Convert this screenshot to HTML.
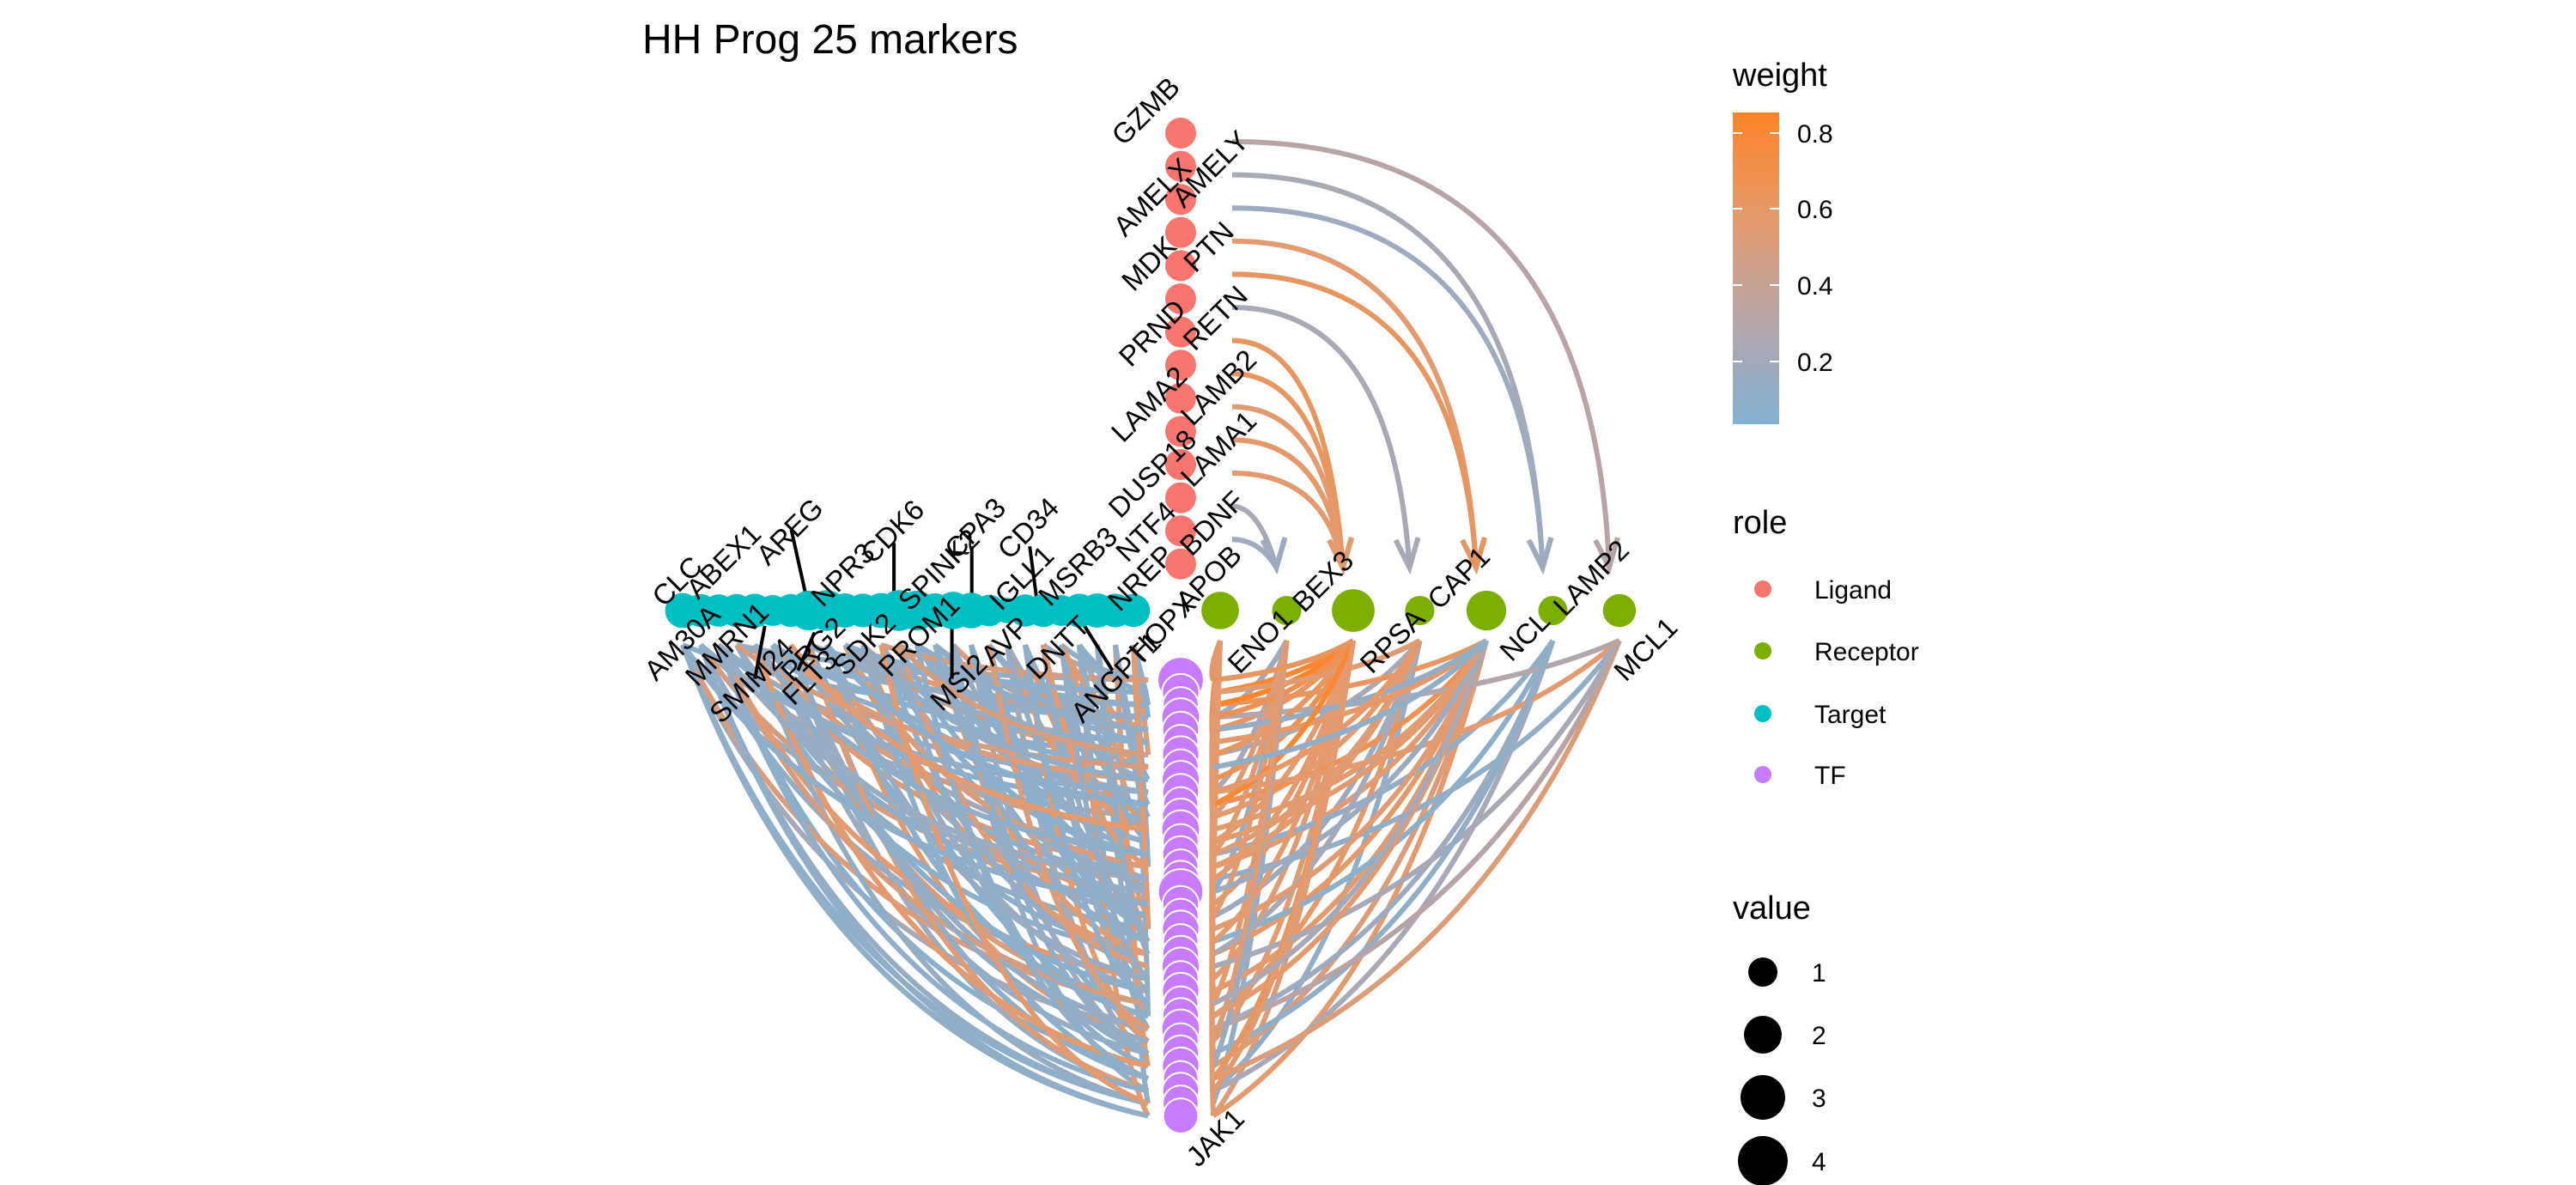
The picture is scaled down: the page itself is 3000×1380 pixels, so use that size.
<!DOCTYPE html>
<html><head><meta charset="utf-8"><style>
html,body{margin:0;padding:0;background:#fff;}
svg{display:block;font-family:"Liberation Sans",Arial,sans-serif;}
</style></head><body>
<svg id="chart" width="3000" height="1380" viewBox="0 0 3000 1380">
<defs>
<linearGradient id="wgrad" x1="0" y1="1" x2="0" y2="0">
<stop offset="0" stop-color="#81b1d4"/><stop offset="0.3" stop-color="#b2a6ae"/><stop offset="0.65" stop-color="#e39a6e"/><stop offset="1" stop-color="#fe8428"/>
</linearGradient>
</defs>
<text x="748" y="62" font-size="48">HH Prog 25 markers</text>
<g id="edges"></g>
<g id="leaders"></g>
<g id="nodes"></g>
<g id="labels"></g>
<g>
<text x="2018" y="100" font-size="38">weight</text>
<rect x="2018" y="131" width="54" height="363" fill="url(#wgrad)"/>
<g stroke="#fff" stroke-width="2">
<line x1="2018" y1="155" x2="2029" y2="155"/><line x1="2061" y1="155" x2="2072" y2="155"/>
<line x1="2018" y1="243" x2="2029" y2="243"/><line x1="2061" y1="243" x2="2072" y2="243"/>
<line x1="2018" y1="332" x2="2029" y2="332"/><line x1="2061" y1="332" x2="2072" y2="332"/>
<line x1="2018" y1="421" x2="2029" y2="421"/><line x1="2061" y1="421" x2="2072" y2="421"/>
</g>
<g font-size="30">
<text x="2093" y="166">0.8</text>
<text x="2093" y="254">0.6</text>
<text x="2093" y="343">0.4</text>
<text x="2093" y="432">0.2</text>
</g>
</g>
<g font-size="30">
<text x="2018" y="621" font-size="38">role</text>
<circle cx="2053" cy="686" r="10" fill="#F8766D"/>
<text x="2113" y="697">Ligand</text>
<circle cx="2053" cy="758" r="10" fill="#7CAE00"/>
<text x="2113" y="769">Receptor</text>
<circle cx="2053" cy="831" r="10" fill="#00BFC4"/>
<text x="2113" y="842">Target</text>
<circle cx="2053" cy="902" r="10" fill="#C77CFF"/>
<text x="2113" y="913">TF</text>
</g>
<g font-size="30">
<text x="2018" y="1070" font-size="38">value</text>
<circle cx="2053" cy="1132" r="17" fill="#000"/>
<text x="2110" y="1143">1</text>
<circle cx="2053" cy="1205" r="22" fill="#000"/>
<text x="2110" y="1216">2</text>
<circle cx="2053" cy="1278" r="26" fill="#000"/>
<text x="2110" y="1289">3</text>
<circle cx="2053" cy="1352" r="29" fill="#000"/>
<text x="2110" y="1363">4</text>
</g>
</svg>
<script>
var ligandNames=["GZMB","AMELX","AMELY","MDK","PTN","PRND","RETN","LAMA2","LAMB2","DUSP18","LAMA1","NTF4","BDNF",""];
var receptorNames=["ENO1","BEX3","RPSA","CAP1","NCL","LAMP2","MCL1"];
var receptorValue=[2.2,1.0,3.2,1.0,2.6,1.0,1.5];
var targetValue=[1.8,1.5,1.4,1.5,1.6,1.2,1.5,2.6,2.8,1.7,1.6,1.8,2.8,2.6,1.7,2.2,1.9,1.3,0.6,1.4,1.5,1.2,1.6,1.7,1.6,1.5];
var tfValue=[3.2,1.6,1.4,1.8,1.5,1.3,1.6,1.4,1.7,1.5,1.3,1.6,1.8,1.4,1.5,1.3,1.6,3.0,1.5,1.4,1.6,1.3,1.5,1.7,1.4,1.6,1.3,1.5,1.8,1.4,1.5,1.6,1.3,1.5,1.4,1.3];
var ligR=[0,1,2,3,4,5,6,7,8,9,10,11,12];
var ligRec=[6,5,5,4,4,3,2,2,2,2,2,1,1];
var ligW=[0.3,0.2,0.15,0.6,0.65,0.2,0.65,0.65,0.6,0.62,0.6,0.2,0.15];
var leftTF=[0,0,1,2,2,3,4,5,5,6,7,8,8,9,10,11,12,12,13,14,15,16,16,17,18,19,20,20,21,22,23,24,24,25,26,27,28,28,29,30,31,32,33,34,35,1,3,4,6,7,9,10,11,13,14,15,17,18,19,21,22,23,25,26,27,29,30,31,32,33,34,35,2,5,8,12,16,20,24,28,0,3,6,9,14,18,22,26,30,34,
35,34,33,32,31,30,29,28,27,26,25,24,23,22,21,20,19,18,17,16,15,14,13,12,11,10,9,8,7,6,5,4,3,2,1,0,35,33,31,29,27,25,23,21,19,17,15,13,11,9,7,5,3,1,34,32,30,28,26,24,22,20,18,16,14,12,10,8,6,4,2,0];
var leftTg=[3,20,7,12,25,0,15,5,22,10,18,2,24,8,13,1,19,6,23,11,4,16,0,21,9,14,3,25,17,7,12,1,20,10,5,23,0,15,8,18,2,13,6,24,0,22,9,17,4,21,11,2,19,14,6,25,1,16,8,23,3,12,20,0,10,18,5,24,7,15,1,22,13,9,19,4,11,17,2,6,21,14,25,8,16,3,10,20,12,0,
1,4,7,10,13,16,19,22,25,2,5,8,11,14,17,20,23,0,3,6,9,12,15,18,21,24,1,5,9,13,17,21,25,3,7,11,0,2,4,6,8,10,12,14,16,18,20,22,24,1,3,5,7,9,11,13,15,17,19,21,23,25,0,2,4,6,8,10,12,14,16,18];
var leftW=[0.1,0.15,0.6,0.08,0.12,0.05,0.55,0.1,0.18,0.62,0.09,0.14,0.07,0.5,0.11,0.2,0.6,0.08,0.13,0.1,0.58,0.06,0.16,0.12,0.65,0.09,0.1,0.52,0.15,0.07,0.6,0.11,0.08,0.14,0.55,0.1,0.2,0.09,0.6,0.12,0.07,0.5,0.15,0.1,0.13,0.08,0.6,0.12,0.1,0.55,0.14,0.07,0.62,0.1,0.18,0.09,0.5,0.11,0.15,0.6,0.08,0.12,0.1,0.55,0.06,0.2,0.14,0.58,0.09,0.1,0.12,0.6,0.07,0.15,0.11,0.52,0.1,0.08,0.6,0.13,0.09,0.15,0.55,0.1,0.12,0.07,0.6,0.14,0.1,0.08,
0.1,0.12,0.55,0.08,0.1,0.15,0.6,0.09,0.11,0.5,0.07,0.13,0.1,0.58,0.08,0.12,0.6,0.09,0.14,0.1,0.52,0.07,0.11,0.6,0.1,0.08,0.15,0.55,0.09,0.12,0.1,0.6,0.08,0.11,0.13,0.5,0.1,0.09,0.6,0.12,0.08,0.14,0.55,0.1,0.07,0.11,0.6,0.09,0.12,0.1,0.5,0.08,0.13,0.1,0.6,0.09,0.11,0.55,0.08,0.12,0.1,0.58,0.09,0.14,0.1,0.6,0.07,0.11,0.5,0.1];
var rightR=[0,0,0,0,0,1,1,1,1,1,2,2,2,2,2,2,2,2,3,3,3,3,3,4,4,4,4,4,4,4,4,5,5,5,5,6,6,6,6,6,0,1,2,2,3,4,4,5,6,2,4,0,3,1,2,4,
0,1,2,3,4,0,1,2,3,4,0,2,4,1,3,2,4,0,2,4];
var rightTF=[0,5,12,20,30,3,9,17,26,34,1,4,8,13,18,24,29,35,6,11,19,27,33,2,7,10,15,22,25,31,35,14,21,28,33,3,9,16,23,32,8,14,6,16,22,12,20,30,28,2,5,25,14,31,21,27,
10,11,3,15,4,24,19,32,1,17,35,10,13,29,9,33,26,18,0,7];
var rightW=[0.6,0.7,0.65,0.6,0.55,0.15,0.2,0.1,0.6,0.12,0.8,0.65,0.7,0.6,0.62,0.58,0.6,0.55,0.2,0.6,0.15,0.62,0.1,0.65,0.6,0.7,0.58,0.62,0.6,0.55,0.6,0.1,0.08,0.15,0.2,0.25,0.6,0.1,0.2,0.55,0.62,0.6,0.65,0.6,0.2,0.6,0.58,0.1,0.3,0.85,0.62,0.6,0.55,0.12,0.6,0.6,
0.6,0.55,0.7,0.6,0.12,0.62,0.6,0.65,0.58,0.15,0.6,0.8,0.6,0.55,0.62,0.6,0.2,0.6,0.65,0.1];
var NS="http://www.w3.org/2000/svg";
function mk(tag,attrs,parent){var e=document.createElementNS(NS,tag);for(var k in attrs)e.setAttribute(k,attrs[k]);parent.appendChild(e);return e;}
function lerp(a,b,t){return a.map(function(v,i){return Math.round(v+(b[i]-v)*t);});}
function wColor(w){var c0=[129,177,212],c1=[178,166,174],c2=[227,154,110],c3=[254,132,40];var c;
 if(w<0.25)c=lerp(c0,c1,Math.max(0,(w-0.03)/0.22));else if(w<0.6)c=lerp(c1,c2,(w-0.25)/0.35);else c=lerp(c2,c3,Math.min(1,(w-0.6)/0.25));
 return "rgb("+c.join(",")+")";}
function rSize(v){return 11+Math.sqrt(v)*10;}
var colX=1375;
function ligY(i){return 155+i*38.6;}
function recX(i){return 1421+i*77.5;}
var rowY=711;
function tgX(i){return 795+i*21;}
function tfY(i){return 792+i*14.5;}
var E=document.getElementById('edges'),N=document.getElementById('nodes'),L=document.getElementById('labels'),LD=document.getElementById('leaders');
var nL=Math.min(leftTF.length,leftTg.length,leftW.length);
for(var i=0;i<nL;i++){var y=tfY(leftTF[i]),x=tgX(leftTg[i]),y0=rowY+40;
 var cx=x+(colX-x)*0.3,cy=y0+(y-y0)*0.85;
 var p=mk('path',{d:"M"+(colX-38)+","+y+" Q"+cx+","+cy+" "+x+","+y0,fill:"none",stroke:wColor(leftW[i]),"stroke-width":6},E);
 
 }
var nR=Math.min(rightR.length,rightTF.length,rightW.length);
for(var i=0;i<nR;i++){var y=tfY(rightTF[i]),x=recX(rightR[i]),y0=rowY+35;
 var cx=x-(x-colX)*0.3,cy=y0+(y-y0)*0.75;
 var p=mk('path',{d:"M"+x+","+y0+" Q"+cx+","+cy+" "+(colX+38)+","+y,fill:"none",stroke:wColor(rightW[i]),"stroke-width":6},E);
 
 }
for(var i=0;i<ligR.length;i++){var y=ligY(ligR[i]),x=recX(ligRec[i])-12,c=wColor(ligW[i]);
 var p=mk('path',{d:"M"+(colX+60)+","+(y+10)+" Q"+(x-20)+","+(y+10)+" "+x+","+(rowY-50),fill:"none",stroke:c,"stroke-width":6},E);
 
 
 var a=mk('path',{d:"M"+(x-16)+","+(rowY-82)+" L"+x+","+(rowY-50)+" L"+(x+10)+","+(rowY-85),fill:"none",stroke:c,"stroke-width":6},E);
 
 }
for(var i=0;i<targetValue.length;i++){var c=mk('circle',{cx:tgX(i),cy:rowY,r:rSize(targetValue[i])-4,fill:"#00BFC4"},N);
 
 }
for(var i=0;i<tfValue.length;i++){var c=mk('circle',{cx:colX,cy:tfY(i),r:rSize(tfValue[i])-2,fill:"#C77CFF",stroke:"#fff","stroke-width":2},N);
 
 }
for(var i=0;i<ligandNames.length;i++){var c=mk('circle',{cx:colX,cy:ligY(i),r:18,fill:"#F8766D"},N);
 
 }
for(var i=0;i<receptorNames.length;i++){var c=mk('circle',{cx:recX(i),cy:rowY,r:rSize(receptorValue[i])-4,fill:"#7CAE00"},N);
 
 }
var lab=[["GZMB",693,68],["AMELX",697,120],["AMELY",732,103],["MDK",695,160],["PTN",731,150],["PRND",697,202],["RETN",735,193],["LAMA2",695,245],["LAMB2",737,235],["DUSP18",697,287],["LAMA1",737,272],["NTF4",693,322],["BDNF",733,317],["NREP",690,350],["APOB",731,350],
["CLC",410,352],["ABEX1",438,340],["AREG",478,322],["NPR3",510,348],["CDK6",540,322],["SPINK2",568,345],["CPA3",590,320],["CD34",622,320],["IGLL1",618,350],["MSRB3",652,343],
["AM30A",413,389],["MMRN1",440,390],["SMIM24",455,412],["PRG2",492,393],["FLT3",490,410],["SDK2",523,390],["PROM1",556,385],["MSI2",580,413],["AVP",608,388],["DNTT",640,392],["ANGPT1",675,410],["HOPX",703,380],
["BEX3",800,352],["CAP1",882,350],["LAMP2",962,350],["ENO1",762,388],["RPSA",842,388],["NCL",922,385],["MCL1",995,393],["JAK1",735,688]];
var S=1.928;
for(var i=0;i<lab.length;i++){var x=lab[i][1]*S,y=lab[i][2]*S;
 var t=mk('text',{x:x,y:y,"font-size":33,"text-anchor":"middle","dominant-baseline":"middle",transform:"rotate(-45 "+x+" "+y+")"},L);
 t.textContent=lab[i][0];
 
 }
var lines=[[478,320,488,365],[540,328,540,364],[587,330,587,365],[622,330,627,368],[462,378,456,410],[492,382,482,405],[575,376,575,410],[655,378,672,405]];
for(var i=0;i<lines.length;i++){var l=lines[i];
 var e=mk('line',{x1:l[0]*S,y1:l[1]*S,x2:l[2]*S,y2:l[3]*S,stroke:"#000","stroke-width":4},LD);
 
 }
</script>
</body></html>
